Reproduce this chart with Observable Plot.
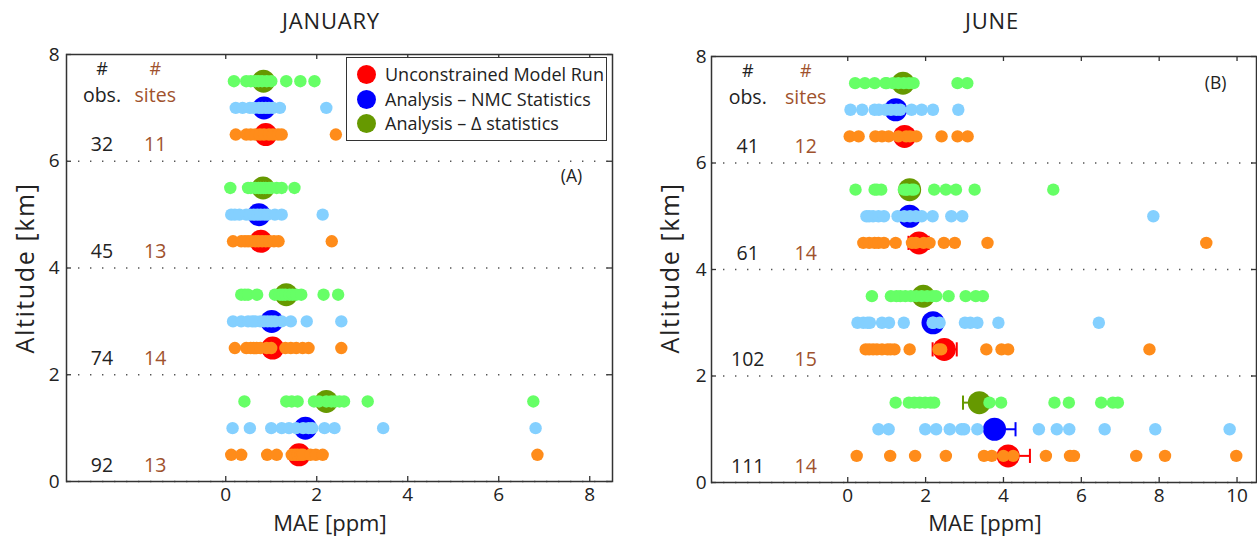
<!DOCTYPE html>
<html><head><meta charset="utf-8">
<script src="https://cdn.jsdelivr.net/npm/d3@7"></script>
<script src="https://cdn.jsdelivr.net/npm/@observablehq/plot@0.6"></script>
<style>
body{margin:0;background:#fff;font-family:"Open Sans",sans-serif;color:#222;}
#wrap{position:relative;width:1257px;height:546px;overflow:hidden;background:#fff;}
.abs{position:absolute;white-space:nowrap;}
.title{font-size:22px;letter-spacing:0.8px;transform:translateX(-50%);top:5px;}
.xlab{font-size:22px;transform:translateX(-50%);top:507px;}
.ylab{font-size:25px;letter-spacing:1.6px;transform:translate(-50%,-50%) rotate(-90deg);}
.legend{border:1.5px solid #333;background:#fff;box-sizing:border-box;}
.legend div{position:absolute;left:38px;font-size:18px;line-height:22px;}
.legend span{position:absolute;left:-28px;top:2px;width:19px;height:19px;border-radius:50%;}
svg{position:absolute;top:0;}
</style></head><body><div id="wrap"></div>
<script>
// ---------- data ----------
const binBase = [0, 2, 4, 6];            // altitude bins [km]
const seriesNames = ["Unconstrained Model Run", "Analysis \u2013 NMC Statistics", "Analysis \u2013 \u0394 statistics"];
const seriesOffset = [0.5, 1.0, 1.5];    // row within bin
const siteColors = ["#ff8c1a", "#84d0ff", "#66ff66"];
const meanColors = ["#ff0000", "#0000ff", "#669900"];
const yTicks = [0, 2, 4, 6, 8];
const gridAlt = [0, 2, 4, 6];

// JANUARY
const janXTicks = [0, 2, 4, 6, 8];
const janObs = [92, 74, 45, 32];
const janSites = [13, 14, 13, 11];
const janUncSites = [
  [0.12, 0.34, 0.91, 1.12, 1.45, 1.52, 1.58, 1.65, 1.70, 1.86, 1.98, 2.13, 6.85],
  [0.20, 0.45, 0.55, 0.61, 0.68, 0.76, 0.90, 1.00, 1.31, 1.43, 1.55, 1.69, 1.82, 2.54],
  [0.16, 0.34, 0.42, 0.49, 0.56, 0.65, 0.72, 0.80, 0.88, 0.96, 1.06, 1.16, 2.33],
  [0.22, 0.45, 0.55, 0.65, 0.75, 0.84, 0.95, 1.04, 1.15, 1.23, 2.42]
];
const janNmcSites = [
  [0.15, 0.53, 1.00, 1.23, 1.39, 1.55, 1.70, 1.82, 1.90, 2.17, 2.39, 3.46, 6.81],
  [0.16, 0.34, 0.49, 0.58, 0.65, 0.76, 0.84, 0.92, 1.00, 1.08, 1.23, 1.43, 1.78, 2.54],
  [0.12, 0.20, 0.30, 0.45, 0.53, 0.61, 0.70, 0.77, 0.85, 0.92, 1.08, 1.23, 2.13],
  [0.22, 0.37, 0.53, 0.62, 0.73, 0.80, 0.88, 0.95, 1.04, 1.19, 2.21]
];
const janDeltaSites = [
  [0.41, 1.33, 1.45, 1.58, 1.94, 2.05, 2.21, 2.32, 2.40, 2.50, 2.60, 3.12, 6.76],
  [0.34, 0.42, 0.49, 0.69, 1.08, 1.19, 1.25, 1.31, 1.40, 1.47, 1.55, 1.66, 2.15, 2.47],
  [0.10, 0.49, 0.55, 0.65, 0.72, 0.77, 0.83, 0.88, 0.95, 1.00, 1.12, 1.23, 1.51],
  [0.18, 0.45, 0.55, 0.65, 0.72, 0.80, 0.90, 1.00, 1.33, 1.64, 1.95]
];
const janUncMean = [1.61, 1.03, 0.77, 0.88];
const janNmcMean = [1.75, 1.01, 0.73, 0.84];
const janDeltaMean = [2.21, 1.33, 0.82, 0.83];
const janUncErr = [null, null, null, null];
const janNmcErr = [null, null, null, null];
const janDeltaErr = [null, null, null, null];

// JUNE
const junXTicks = [0, 2, 4, 6, 8, 10];
const junObs = [111, 102, 61, 41];
const junSites = [14, 15, 14, 12];
const junUncSites = [
  [0.23, 1.09, 1.73, 2.52, 3.50, 3.70, 4.00, 4.25, 5.09, 5.71, 5.81, 7.41, 8.15, 9.98],
  [0.46, 0.55, 0.65, 0.75, 0.88, 1.02, 1.10, 1.20, 1.59, 2.33, 2.40, 3.56, 3.95, 4.12, 7.75],
  [0.40, 0.55, 0.69, 0.79, 0.93, 1.23, 1.65, 1.75, 1.95, 2.10, 2.47, 2.75, 3.59, 9.21],
  [0.05, 0.28, 0.71, 0.88, 1.05, 1.30, 1.50, 1.60, 1.76, 2.41, 2.82, 3.08]
];
const junNmcSites = [
  [0.79, 1.05, 1.99, 2.27, 2.62, 2.92, 2.99, 3.33, 4.91, 5.37, 5.69, 6.60, 7.90, 9.81],
  [0.25, 0.40, 0.51, 0.57, 0.88, 1.06, 1.44, 2.18, 2.20, 2.36, 3.01, 3.15, 3.33, 3.87, 6.45],
  [0.48, 0.55, 0.65, 0.79, 0.93, 1.28, 1.45, 1.60, 1.75, 1.90, 2.18, 2.66, 2.94, 7.85],
  [0.07, 0.37, 0.69, 0.80, 0.97, 1.11, 1.25, 1.35, 1.64, 1.90, 2.19, 2.84]
];
const junDeltaSites = [
  [1.23, 1.57, 1.71, 1.85, 1.99, 2.13, 2.22, 3.64, 3.94, 5.31, 5.68, 6.51, 6.81, 6.94],
  [0.62, 1.11, 1.25, 1.35, 1.48, 1.62, 1.76, 1.90, 2.04, 2.18, 2.27, 2.59, 3.03, 3.29, 3.47],
  [0.20, 0.69, 0.75, 0.86, 1.44, 1.50, 1.53, 1.64, 1.70, 2.22, 2.52, 2.78, 3.26, 5.28],
  [0.19, 0.44, 0.69, 0.97, 1.00, 1.16, 1.30, 1.44, 1.57, 1.69, 2.82, 3.07]
];
const junUncMean = [4.12, 2.48, 1.83, 1.46];
const junNmcMean = [3.77, 2.19, 1.59, 1.23];
const junDeltaMean = [3.38, 1.94, 1.59, 1.42];
const junUncErr = [[4.12, 4.68], [2.18, 2.80], [1.56, 2.08], null];
const junNmcErr = [[3.77, 4.31], null, null, null];
const junDeltaErr = [[2.96, 3.38], null, null, null];

// ---------- drawing ----------
const FONT = "'Open Sans', sans-serif";
const capSymbol = {draw(ctx, size) { const h = Math.sqrt(size); ctx.moveTo(0, -h); ctx.lineTo(0, h); }};

function panel(cfg) {
  const sites = [], means = [], errs = [];
  cfg.sites.forEach((series, s) => series.forEach((bin, b) => bin.forEach(v =>
    sites.push({x: v, y: binBase[b] + seriesOffset[s], s}))));
  cfg.means.forEach((series, s) => series.forEach((v, b) =>
    means.push({x: v, y: binBase[b] + seriesOffset[s], s})));
  cfg.errs.forEach((series, s) => series.forEach((e, b) => {
    if (e) errs.push({x1: e[0], x2: e[1], y: binBase[b] + seriesOffset[s], s});
  }));
  const caps = errs.flatMap(e => [{x: e.x1, y: e.y, s: e.s}, {x: e.x2, y: e.y, s: e.s}]);
  const innerW = cfg.width - cfg.ml - cfg.mr;
  const innerH = 546 - cfg.mt - cfg.mb;
  const lbl = 0.3;
  return Plot.plot({
    width: cfg.width, height: 546,
    marginLeft: cfg.ml, marginRight: cfg.mr, marginTop: cfg.mt, marginBottom: cfg.mb,
    x: {domain: cfg.xDomain},
    y: {domain: [0, 8]},
    style: {fontFamily: FONT, color: "#222", background: "transparent", overflow: "visible"},
    marks: [
      Plot.ruleY(gridAlt, {y: d => d, stroke: "#555", strokeWidth: 1.4, strokeDasharray: "1.4,10.6"}),
      // error bars
      Plot.ruleY(errs, {y: "y", x1: "x1", x2: "x2", stroke: d => meanColors[d.s], strokeWidth: 2}),
      Plot.dot(caps, {x: "x", y: "y", symbol: capSymbol, r: 4, stroke: d => meanColors[d.s], strokeWidth: 2}),
      // means
      Plot.dot(means, {x: "x", y: "y", r: 11.5, fill: d => meanColors[d.s]}),
      // individual sites
      Plot.dot(sites, {x: "x", y: "y", r: 6.2, fill: d => siteColors[d.s]}),
      // obs / sites counts
      Plot.text(["#"], {x: () => cfg.obsX, y: () => 7.72, text: d => d, fontSize: 18, fill: "#222"}),
      Plot.text(["obs."], {x: () => cfg.obsX, y: () => 7.23, text: d => d, fontSize: 19.5, fill: "#222"}),
      Plot.text(["#"], {x: () => cfg.siteX, y: () => 7.72, text: d => d, fontSize: 18, fill: "#a0522d"}),
      Plot.text(["sites"], {x: () => cfg.siteX, y: () => 7.23, text: d => d, fontSize: 19.5, fill: "#a0522d"}),
      Plot.text(cfg.obs, {x: () => cfg.obsX, y: (d, i) => binBase[i] + lbl, text: d => d, fontSize: 19.5, fill: "#222"}),
      Plot.text(cfg.nsites, {x: () => cfg.siteX, y: (d, i) => binBase[i] + lbl, text: d => d, fontSize: 19.5, fill: "#a0522d"}),
      Plot.text([cfg.tag], {x: () => cfg.tagX, y: () => cfg.tagY, text: d => d, fontSize: 17.5, fill: "#222"}),
      // axes
      Plot.axisX({ticks: cfg.xTicks, tickSize: 0, tickPadding: 6, fontSize: 19, label: null, tickFormat: d => d}),
      Plot.axisY({ticks: yTicks, tickSize: 0, tickPadding: cfg.yPad, fontSize: 19, label: null}),
      Plot.tickX(cfg.xTicks, {x: d => d, insetTop: innerH - 5, stroke: "#333", strokeWidth: 1.3}),
      Plot.tickX(cfg.xTicks, {x: d => d, insetBottom: innerH - 5, stroke: "#333", strokeWidth: 1.3}),
      Plot.tickY(yTicks, {y: d => d, insetRight: innerW - 5, stroke: "#333", strokeWidth: 1.3}),
      Plot.tickY(yTicks, {y: d => d, insetLeft: innerW - 5, stroke: "#333", strokeWidth: 1.3}),
      Plot.frame({stroke: "#333", strokeWidth: 1.5})
    ]
  });
}

const wrap = document.getElementById("wrap");

const left = panel({
  width: 630, ml: 66, mr: 18, mt: 54, mb: 65, yPad: 7,
  xDomain: [-3.5, 8.5], xTicks: janXTicks,
  sites: [janUncSites, janNmcSites, janDeltaSites],
  means: [janUncMean, janNmcMean, janDeltaMean],
  errs: [janUncErr, janNmcErr, janDeltaErr],
  obs: janObs, nsites: janSites, obsX: -2.72, siteX: -1.55,
  tag: "(A)", tagX: 7.6, tagY: 5.72
});
left.style.left = "0px";
wrap.appendChild(left);

const right = panel({
  width: 627, ml: 81, mr: 1, mt: 56, mb: 64, yPad: 5,
  xDomain: [-3.5, 10.5], xTicks: junXTicks,
  sites: [junUncSites, junNmcSites, junDeltaSites],
  means: [junUncMean, junNmcMean, junDeltaMean],
  errs: [junUncErr, junNmcErr, junDeltaErr],
  obs: junObs, nsites: junSites, obsX: -2.57, siteX: -1.08,
  tag: "(B)", tagX: 9.45, tagY: 7.5
});
right.style.left = "630px";
wrap.appendChild(right);

function addText(cls, txt, x, y) {
  const d = document.createElement("div");
  d.className = "abs " + cls;
  d.textContent = txt;
  d.style.left = x + "px";
  if (y != null) d.style.top = y + "px";
  wrap.appendChild(d);
  return d;
}
addText("title", "JANUARY", 331);
addText("title", "JUNE", 992);
addText("xlab", "MAE [ppm]", 330);
addText("xlab", "MAE [ppm]", 985);
addText("ylab", "Altitude [km]", 24, 268);
addText("ylab", "Altitude [km]", 669, 268);

// legend
const leg = document.createElement("div");
leg.className = "abs legend";
Object.assign(leg.style, {left: "346px", top: "57px", width: "261px", height: "84px"});
seriesNames.forEach((n, i) => {
  const row = document.createElement("div");
  row.style.top = (5 + i * 24.5) + "px";
  row.textContent = n;
  const c = document.createElement("span");
  c.style.background = meanColors[i];
  row.appendChild(c);
  leg.appendChild(row);
});
wrap.appendChild(leg);
</script>
</body></html>
